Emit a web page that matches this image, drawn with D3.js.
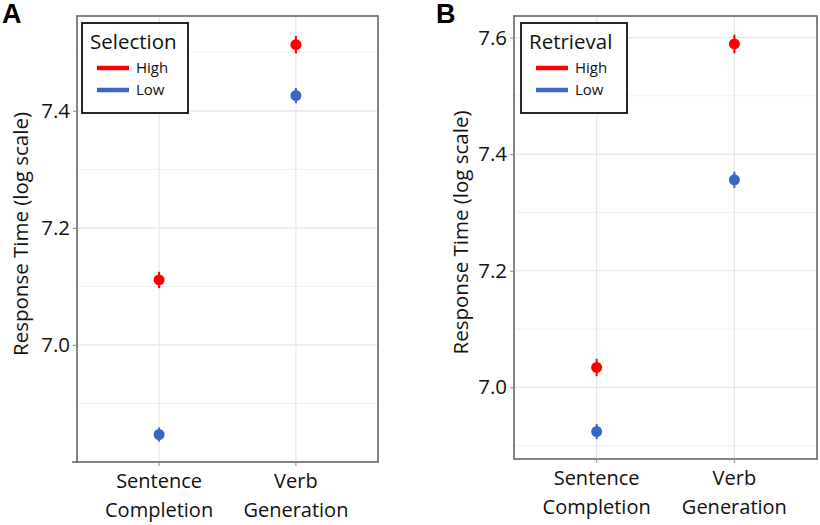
<!DOCTYPE html>
<html><head><meta charset="utf-8">
<script src="https://cdn.jsdelivr.net/npm/d3@7"></script>
<style>body{margin:0;background:#fff;} svg{display:block;}</style>
</head><body>
<svg id="chart" width="820" height="525"></svg>
<script>
const categories = ["Sentence Completion", "Verb Generation"];
const categoryLines = [["Sentence", "Completion"], ["Verb", "Generation"]];
const levels = ["High", "Low"];
const selectionHigh = [7.111, 7.513];
const selectionLow = [6.847, 7.426];
const selectionHighErr = [0.014, 0.015];
const selectionLowErr = [0.012, 0.013];
const retrievalHigh = [7.034, 7.589];
const retrievalLow = [6.924, 7.356];
const retrievalHighErr = [0.015, 0.016];
const retrievalLowErr = [0.013, 0.014];
const ticksA = [7.0, 7.2, 7.4];
const minorA = [6.9, 7.1, 7.3, 7.5];
const ticksB = [7.0, 7.2, 7.4, 7.6];
const minorB = [6.9, 7.1, 7.3, 7.5];
const colors = {High: "#ff0000", Low: "#3a66c8"};
const FONT = "'Open Sans', sans-serif";

const svg = d3.select("#chart");

const panels = [
  {letter: "A", title: "Selection", high: selectionHigh, low: selectionLow, highErr: selectionHighErr, lowErr: selectionLowErr,
   ticks: ticksA, minor: minorA, domain: [6.80, 7.562],
   box: {l: 77, r: 378, t: 16, b: 462}, letterX: 2, ylabX: 21, legend: {x: 82, y: 23, w: 106, h: 90}, axisExt: 5},
  {letter: "B", title: "Retrieval", high: retrievalHigh, low: retrievalLow, highErr: retrievalHighErr, lowErr: retrievalLowErr,
   ticks: ticksB, minor: minorB, domain: [6.877, 7.637],
   box: {l: 514, r: 817, t: 16, b: 459}, letterX: 436, ylabX: 461, legend: {x: 521, y: 23, w: 106, h: 90}, axisExt: 0}
];

panels.forEach(p => {
  const g = svg.append("g");
  // discrete scale with 0.6 expansion on each side
  const xs = d3.scaleLinear().domain([0.4, 2.6]).range([p.box.l, p.box.r]);
  const xPos = c => xs(categories.indexOf(c) + 1);
  const y = d3.scaleLinear().domain(p.domain).range([p.box.b, p.box.t]);

  // grid
  g.selectAll(".minor").data(p.minor).join("line")
    .attr("x1", p.box.l).attr("x2", p.box.r).attr("y1", d => y(d)).attr("y2", d => y(d))
    .attr("stroke", "#f0f0f0").attr("stroke-width", 1);
  g.selectAll(".major").data(p.ticks).join("line")
    .attr("x1", p.box.l).attr("x2", p.box.r).attr("y1", d => y(d)).attr("y2", d => y(d))
    .attr("stroke", "#e6e6e6").attr("stroke-width", 1.2);
  g.selectAll(".vgrid").data(categories).join("line")
    .attr("x1", d => xPos(d)).attr("x2", d => xPos(d)).attr("y1", p.box.t).attr("y2", p.box.b)
    .attr("stroke", "#e8e8e8").attr("stroke-width", 1.2);

  // points
  const pts = [];
  categories.forEach((c, i) => {
    pts.push({c, level: "High", v: p.high[i], e: p.highErr[i]});
    pts.push({c, level: "Low", v: p.low[i], e: p.lowErr[i]});
  });
  g.selectAll(".err").data(pts).join("line")
    .attr("x1", d => xPos(d.c)).attr("x2", d => xPos(d.c))
    .attr("y1", d => y(d.v - d.e)).attr("y2", d => y(d.v + d.e))
    .attr("stroke", d => colors[d.level]).attr("stroke-width", 2);
  g.selectAll(".pt").data(pts).join("circle")
    .attr("cx", d => xPos(d.c)).attr("cy", d => y(d.v)).attr("r", 5.5)
    .attr("fill", d => colors[d.level]);

  // panel border
  g.append("rect").attr("x", p.box.l).attr("y", p.box.t)
    .attr("width", p.box.r - p.box.l).attr("height", p.box.b - p.box.t)
    .attr("fill", "none").attr("stroke", "#666").attr("stroke-width", 1.6);
  if (p.axisExt) {
    g.append("line").attr("x1", p.box.l - p.axisExt).attr("x2", p.box.l)
      .attr("y1", p.box.b).attr("y2", p.box.b).attr("stroke", "#666").attr("stroke-width", 1.6);
  }

  // y axis
  const yAxis = d3.axisLeft(y).tickValues(p.ticks).tickSize(4).tickPadding(3).tickFormat(d3.format(".1f"));
  const ya = g.append("g").attr("transform", `translate(${p.box.l},0)`).call(yAxis);
  ya.select(".domain").remove();
  ya.selectAll(".tick line").attr("stroke", "#888");
  ya.selectAll(".tick text").attr("font-family", FONT).attr("font-size", 20.5).attr("fill", "#111");

  // x axis
  const xa = g.append("g").attr("transform", `translate(0,${p.box.b})`);
  categories.forEach((c, i) => {
    xa.append("line").attr("x1", xPos(c)).attr("x2", xPos(c)).attr("y1", 0).attr("y2", 4).attr("stroke", "#888");
    const t = xa.append("text").attr("text-anchor", "middle").attr("font-family", FONT)
      .attr("font-size", 20).attr("fill", "#111");
    categoryLines[i].forEach((ln, j) => {
      t.append("tspan").attr("x", xPos(c)).attr("y", 26 + j * 29).text(ln);
    });
  });

  // y label
  g.append("text").attr("transform", `translate(${p.ylabX},${(p.box.t + p.box.b) / 2 - 5}) rotate(-90)`)
    .attr("text-anchor", "middle").attr("dy", "0.35em").attr("font-family", FONT).attr("font-size", 20.5)
    .attr("fill", "#111").text("Response Time (log scale)");

  // panel letter
  g.append("text").attr("x", p.letterX).attr("y", 23).attr("font-family", "'Liberation Sans', Arial, sans-serif")
    .attr("font-weight", "bold").attr("font-size", 27).attr("fill", "#000").text(p.letter);

  // legend
  const L = p.legend;
  const lg = g.append("g");
  lg.append("rect").attr("x", L.x).attr("y", L.y).attr("width", L.w).attr("height", L.h)
    .attr("fill", "#fff").attr("stroke", "#111").attr("stroke-width", 1.8);
  lg.append("text").attr("x", L.x + 8).attr("y", L.y + 26).attr("font-family", FONT).attr("font-size", 20.5)
    .attr("fill", "#111").text(p.title);
  levels.forEach((lv, i) => {
    const yy = L.y + 45 + i * 22;
    lg.append("line").attr("x1", L.x + 15).attr("x2", L.x + 47).attr("y1", yy).attr("y2", yy)
      .attr("stroke", colors[lv]).attr("stroke-width", 4.5);
    lg.append("text").attr("x", L.x + 54).attr("y", yy).attr("dy", "0.35em").attr("font-family", FONT)
      .attr("font-size", 15).attr("fill", "#111").text(lv);
  });
});
</script>
</body></html>
